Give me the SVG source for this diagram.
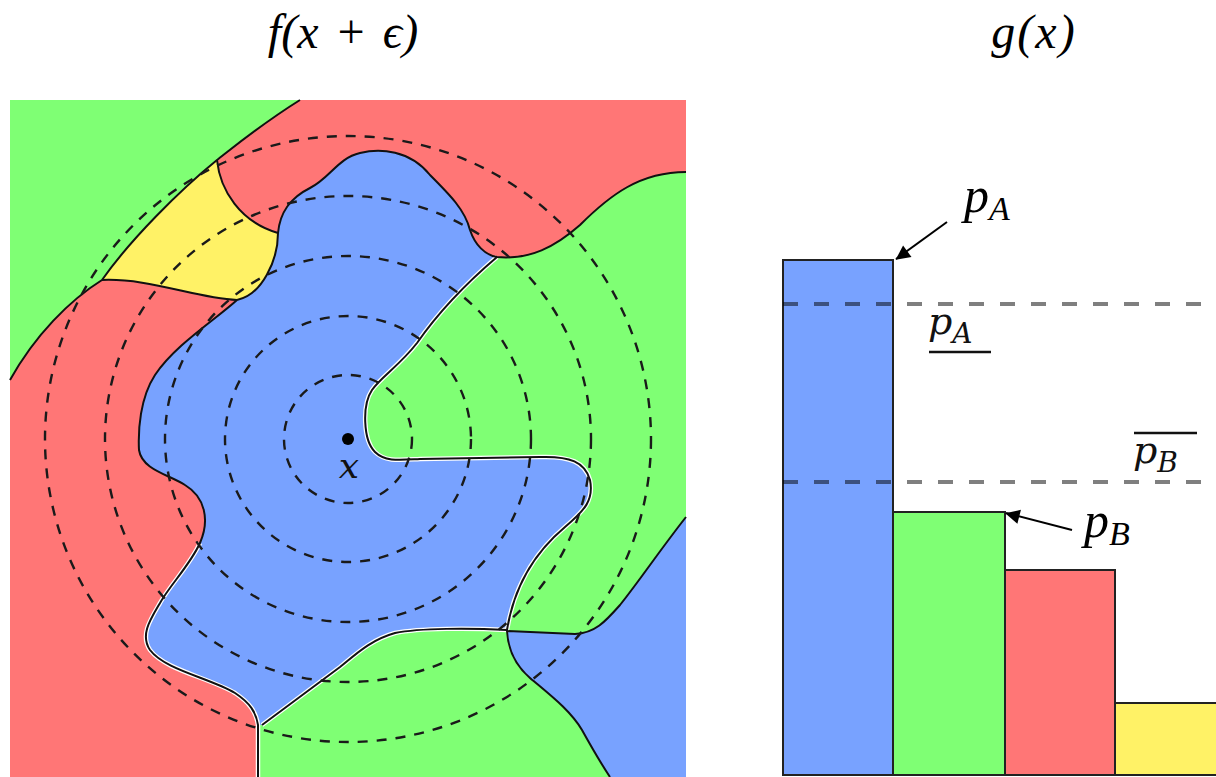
<svg xmlns="http://www.w3.org/2000/svg" width="1216" height="777" viewBox="0 0 1216 777">
<defs>
<style>
.math{font-family:"Liberation Serif","DejaVu Serif",serif;font-style:italic;fill:#000}
.tex{font-family:"DejaVu Serif","Liberation Serif",serif;font-style:italic;fill:#111}
.bnd{fill:none;stroke:#111;stroke-width:2}
.halo{fill:none;stroke:#fff;stroke-width:4.5}
.ring{fill:none;stroke:#1a1a1a;stroke-width:2.4;stroke-dasharray:10 9}
.bar{stroke:#222;stroke-width:2}
.thr{fill:none;stroke:#000;stroke-opacity:0.5;stroke-width:4;stroke-dasharray:15 16}
.arr{fill:none;stroke:#000;stroke-width:2}
</style>
<marker id="ah" viewBox="0 0 10 10" refX="9" refY="5" markerWidth="8" markerHeight="8" markerUnits="userSpaceOnUse" orient="auto" overflow="visible">
<path d="M0,0 L10,5 L0,10 Z" fill="#000" transform="scale(1.8) translate(-4.5,-2.5)"/>
</marker>
</defs>
<rect width="1216" height="777" fill="#fff"/>

<g id="title-left"><text class="math" x="343" y="48" font-size="48" text-anchor="middle" word-spacing="4">f(x + ϵ)</text></g>
<g id="title-right"><text class="math" x="1034" y="48" font-size="48" text-anchor="middle" letter-spacing="2">g(x)</text></g>

<g id="decision-regions">
<rect x="10" y="100" width="676" height="677" fill="#FF7676"/>
<path id="green-tl" fill="#7FFF74" d="M10,100 L300,100 C260,125 230,150 217,160 C180,190 130,240 102,280 C70,300 35,335 10,380 Z"/>
<path id="yellow" fill="#FFF266" d="M217,160 C220,190 240,222 278,233 C278,260 262,295 237,300 C195,298 150,278 102,280 C130,240 180,190 217,160 Z"/>
<path id="green-main" fill="#7FFF74" d="M497,257 C530,260 555,247 580,225 C610,195 640,172 686,172 L686,777 L258,777 L258,725 L300,550 L340,430 L360,380 L405,330 L480,262 Z"/>
<path id="blue-br" fill="#78A2FF" d="M686,517 C660,550 640,580 620,605 C605,622 595,633 575,634 L507,631 C508,650 515,665 530,678 C550,695 570,710 582,730 C592,748 602,765 610,777 L686,777 Z"/>
<path id="blue-central" fill="#78A2FF" d="M278,233 C280,212 290,198 310,188 C330,178 338,158 360,153 C380,148 410,150 430,175 C450,195 465,210 470,230 C475,245 485,255 497,257 C470,280 440,310 417,343 C400,365 380,378 372,390 C362,405 363,440 375,452 C385,462 400,460 420,459 L540,457 C570,456 585,462 590,480 C594,500 585,510 565,527 C540,548 515,580 507,630 C470,628 420,628 395,633 C370,640 355,655 340,667 L262,725 L258,725 C256,712 250,703 235,693 C210,678 165,670 150,650 C140,635 150,620 160,603 C170,585 190,565 200,543 C210,520 205,497 185,485 C170,475 142,470 139,450 C138,430 140,398 155,375 C175,345 215,320 237,300 C262,295 278,260 278,233 Z"/>
</g>

<g id="boundaries">
<path class="halo" d="M497,257 C470,280 440,310 417,343 C400,365 380,378 372,390 C362,405 363,440 375,452 C385,462 400,460 420,459 L540,457 C570,456 585,462 590,480 C594,500 585,510 565,527 C540,548 515,580 507,630 C470,628 420,628 395,633 C370,640 355,655 340,667 L262,725"/>
<path class="halo" d="M200,543 C190,565 170,585 160,603 C150,620 140,635 150,650 C165,670 210,678 235,693 C250,703 256,712 258,725 L258,777"/>
<path class="bnd" d="M300,100 C260,125 230,150 217,160 C180,190 130,240 102,280 C70,300 35,335 10,380"/>
<path class="bnd" d="M217,160 C220,190 240,222 278,233 C278,260 262,295 237,300"/>
<path class="bnd" d="M102,280 C150,278 195,298 237,300"/>
<path class="bnd" d="M278,233 C280,212 290,198 310,188 C330,178 338,158 360,153 C380,148 410,150 430,175 C450,195 465,210 470,230 C475,245 485,255 497,257 C530,260 555,247 580,225 C610,195 640,172 686,172"/>
<path class="bnd" d="M497,257 C470,280 440,310 417,343 C400,365 380,378 372,390 C362,405 363,440 375,452 C385,462 400,460 420,459 L540,457 C570,456 585,462 590,480 C594,500 585,510 565,527 C540,548 515,580 507,630 C470,628 420,628 395,633 C370,640 355,655 340,667 L262,725"/>
<path class="bnd" d="M237,300 C215,320 175,345 155,375 C140,398 138,430 139,450 C142,470 170,475 185,485 C205,497 210,520 200,543 C190,565 170,585 160,603 C150,620 140,635 150,650 C165,670 210,678 235,693 C250,703 256,712 258,725 L258,777"/>
<path class="bnd" d="M686,517 C660,550 640,580 620,605 C605,622 595,633 575,634 L507,631 C508,650 515,665 530,678 C550,695 570,710 582,730 C592,748 602,765 610,777"/>
</g>

<g id="noise-rings">
<circle class="ring" cx="348" cy="439" r="64"/>
<circle class="ring" cx="348" cy="439" r="123"/>
<circle class="ring" cx="348" cy="439" r="183"/>
<circle class="ring" cx="348" cy="439" r="243"/>
<circle class="ring" cx="348" cy="439" r="303"/>
</g>

<g id="point-x">
<circle cx="348" cy="439" r="6" fill="#000"/>
<text class="tex" x="349" y="478" font-size="36" text-anchor="middle">x</text>
</g>

<g id="bars">
<rect id="bar-blue" class="bar" x="783" y="260" width="110" height="515" fill="#78A2FF"/>
<rect id="bar-green" class="bar" x="893" y="512" width="112" height="263" fill="#7FFF74"/>
<rect id="bar-red" class="bar" x="1005" y="570" width="110" height="205" fill="#FF7676"/>
<rect id="bar-yellow" class="bar" x="1115" y="703" width="110" height="72" fill="#FFF266"/>
</g>

<g id="thresholds">
<line class="thr" x1="783" y1="304" x2="1216" y2="304"/>
<line class="thr" x1="783" y1="482" x2="1216" y2="482"/>
</g>

<g id="connectors">
<line class="arr" x1="947" y1="222" x2="896" y2="259" marker-end="url(#ah)"/>
<line class="arr" x1="1072" y1="530" x2="1006" y2="513" marker-end="url(#ah)"/>
</g>

<g id="labels">
<text class="math" x="964" y="212" font-size="50">p<tspan font-size="34" dy="8">A</tspan></text>
<text class="tex" x="928" y="334" font-size="38">p<tspan font-size="28" dy="9">A</tspan></text>
<line x1="929" y1="352" x2="991" y2="352" stroke="#111" stroke-width="2.5"/>
<text class="tex" x="1133" y="463" font-size="38">p<tspan font-size="28" dy="9">B</tspan></text>
<line x1="1134" y1="433" x2="1197" y2="433" stroke="#111" stroke-width="2.5"/>
<text class="math" x="1084" y="537" font-size="50">p<tspan font-size="34" dy="8">B</tspan></text>
</g>
</svg>
